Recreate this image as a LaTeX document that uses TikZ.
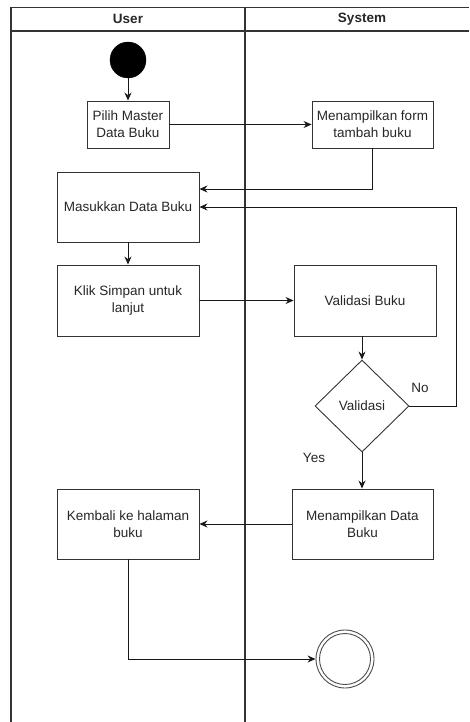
\documentclass[tikz,border=0pt]{standalone}
\usepackage{fontspec}
\setmainfont{Liberation Sans}
\usetikzlibrary{arrows.meta,shapes.geometric}
\begin{document}
\begin{tikzpicture}[x=1pt,y=-1pt,
  every node/.style={font=\fontsize{13.5}{17}\selectfont, text=black!85},
  lane/.style={draw=black!80, line width=1.1pt},
  actbox/.style={draw=black!80, line width=0.9pt, align=center, inner sep=0pt},
  flow/.style={draw=black!90, line width=0.9pt, -{Stealth[length=8pt,width=7pt]}},
  lbl/.style={inner sep=0pt}]
\useasboundingbox (0,0) rectangle (469,722);
% swimlanes
\draw[lane] (469,7.5) -- (11,7.5) -- (11,722);
\draw[lane] (11,31) -- (469,31);
\draw[lane] (245,7.5) -- (245,722);
\node[font=\bfseries\fontsize{13.5}{17}\selectfont] (huser) at (128,19) {User};
\node[font=\bfseries\fontsize{13.5}{17}\selectfont] (hsys) at (362,19) {System};
% nodes
\node[circle, fill=black, draw=black, minimum size=36pt, inner sep=0pt] (start) at (128,60) {};
\node[actbox, minimum width=82pt, minimum height=47pt] (pilih) at (128,124.5) {Pilih Master\\Data Buku};
\node[actbox, minimum width=121pt, minimum height=47pt] (form) at (372.5,124.5) {Menampilkan form\\tambah buku};
\node[actbox, minimum width=142pt, minimum height=70pt] (masuk) at (128,207) {Masukkan Data Buku};
\node[actbox, minimum width=142pt, minimum height=71pt] (klik) at (128,300.5) {Klik Simpan untuk\\lanjut};
\node[actbox, minimum width=142pt, minimum height=71pt] (valid) at (365,300.5) {Validasi Buku};
\node[diamond, draw=black!80, line width=0.9pt, minimum width=94pt, minimum height=92pt, inner sep=0pt] (dia) at (362,406) {Validasi};
\node[actbox, minimum width=141pt, minimum height=70pt] (tampil) at (362.5,524) {Menampilkan Data\\Buku};
\node[actbox, minimum width=142pt, minimum height=70pt] (kembali) at (128,524) {Kembali ke halaman\\buku};
\node[circle, draw=black!70, line width=0.9pt, minimum size=58pt, inner sep=0pt] (end) at (345,659) {};
\node[circle, draw=black!70, line width=0.9pt, minimum size=51pt, inner sep=0pt] (endin) at (345,659) {};
\node[lbl] (no) at (420,388) {No};
\node[lbl] (yes) at (314,458) {Yes};
% connectors
\draw[flow] (start) -- (pilih);
\draw[flow] (pilih) -- (form);
\draw[flow] (form.south) |- ([yshift=18pt]masuk.east);
\draw[flow] (masuk) -- (klik);
\draw[flow] (klik) -- (valid.west |- klik.east);
\draw[flow] (valid.south -| dia.north) -- (dia.north);
\draw[flow] (dia.east) -- ++(47,0) |- (masuk.east);
\draw[flow] (dia.south) -- (tampil.north -| dia.south);
\draw[flow] (tampil.west) -- (kembali.east);
\draw[flow] (kembali.south) |- (end.west);
\end{tikzpicture}
\end{document}
